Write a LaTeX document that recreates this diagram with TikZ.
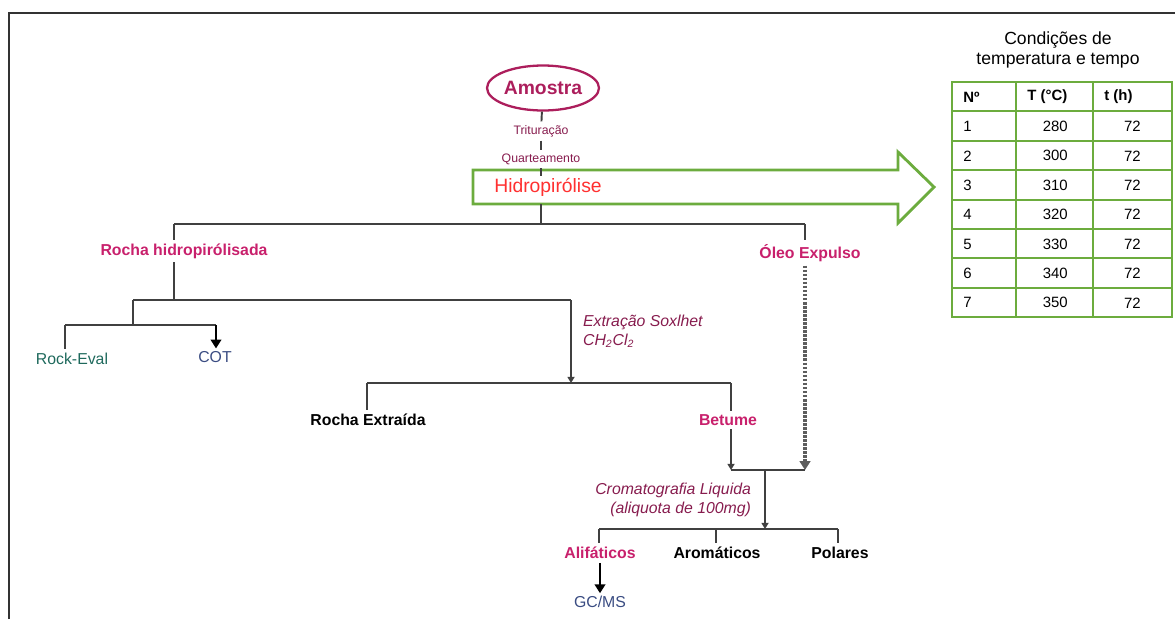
\documentclass[tikz,border=0pt]{standalone}
\usepackage{fontspec}
\setmainfont{Liberation Sans}
\usetikzlibrary{arrows.meta,shapes.geometric}
\definecolor{magen}{RGB}{200,32,108}
\definecolor{vinho}{RGB}{135,28,78}
\definecolor{amost}{RGB}{172,30,92}
\definecolor{verde}{RGB}{108,172,62}
\definecolor{petrol}{RGB}{30,105,92}
\definecolor{azul}{RGB}{58,76,130}
\definecolor{linha}{RGB}{64,64,64}
\definecolor{vermelho}{RGB}{255,48,48}
\newcommand{\fs}[1]{\fontsize{#1}{#1}\selectfont}
\tikzset{
  ln/.style={linha, line width=1.1pt},
  lbl/.style={font=\fs{9}\bfseries, text=magen, inner sep=2pt},
  obs/.style={font=\fs{9}\itshape, text=vinho, inner sep=1pt},
  tip/.style={-{Triangle[width=6pt,length=5pt]}},
  tipp/.style={-{Triangle[width=4pt,length=3.5pt]}},
  cel/.style={font=\fs{8.5}, inner sep=0pt}
}

\begin{document}
\begin{tikzpicture}[x=0.02cm, y=-0.02cm]
  \useasboundingbox (0,0) rectangle (1175,619);
  \draw[line width=1.2pt, black!80] (9,619) -- (9,13) -- (1175,13);

  % amostra e preparacao
  \node[draw=amost, ellipse, line width=1.3pt, text=amost, inner sep=0pt,
        font=\fs{11}\bfseries, minimum width=2.24cm, minimum height=0.9cm] (amostra) at (543,88) {Amostra};
  \node[font=\fs{7}, text=vinho, inner sep=2pt] (trit) at (541,131) {Trituração};
  \node[font=\fs{7}, text=vinho, inner sep=2pt] (quart) at (541,159) {Quarteamento};
  \draw[ln] (amostra) -- (trit);
  \draw[ln] (trit) -- (quart);

  % seta da hidropirolise
  \draw[verde, line width=1.6pt, fill=white]
    (473,170) -- (898,170) -- (898,152) -- (934,187) -- (898,223) -- (898,204) -- (473,204) -- cycle;
  \node[font=\fs{11}, text=vermelho, inner sep=1pt] (hidro) at (548,187) {Hidropirólise};
  \coordinate (abot) at (541,204);
  \coordinate (split) at (541,224);
  \draw[ln] (quart) -- (quart |- hidro.north);
  \draw[ln] (abot) -- (split);

  % ramos principais
  \node[lbl] (rochah) at (184,251) {Rocha hidropirólisada};
  \node[lbl] (oleo) at (810,253) {Óleo Expulso};
  \coordinate (s1) at (174,224);
  \coordinate (s2) at (805,224);
  \draw[ln] (s1) -- (s2);
  \draw[ln] (s1) -- (s1 |- rochah.north);
  \draw[ln] (s2) -- (s2 |- oleo.north);

  % rocha hidropirolisada
  \coordinate (r1) at (174,300);
  \coordinate (r2) at (133,300);
  \coordinate (r3) at (571,300);
  \draw[ln] (r1 |- rochah.south) -- (r1);
  \draw[ln] (r2) -- (r3);
  \node[font=\fs{9}, text=petrol, inner sep=2pt] (rockeval) at (72,359) {Rock-Eval};
  \node[font=\fs{9}, text=azul, inner sep=1.5pt] (cot) at (215,357) {COT};
  \coordinate (c1) at (133,325);
  \coordinate (c2) at (65,325);
  \coordinate (c3) at (216,325);
  \draw[ln] (r2) -- (c1);
  \draw[ln] (c2) -- (c3);
  \draw[ln] (c2) -- (c2 |- rockeval.north);
  \draw[ln, tip, black] (c3) -- (c3 |- cot.north);

  % extracao soxlhet
  \coordinate (e1) at (571,383);
  \draw[ln, tipp] (r3) -- (e1);
  \node[obs, anchor=west, align=left] (soxlhet) at (581,331)
    {Extração Soxlhet\\[2pt]CH\textsubscript{2}Cl\textsubscript{2}};
  \node[lbl, text=black] (rochae) at (368,420) {Rocha Extraída};
  \node[lbl] (betume) at (728,420) {Betume};
  \coordinate (e2) at (367,383);
  \coordinate (e3) at (731,383);
  \draw[ln] (e2) -- (e3);
  \draw[ln] (e2) -- (e2 |- rochae.north);
  \draw[ln] (e3) -- (e3 |- betume.north);

  % juncao betume + oleo
  \coordinate (j1) at (731,470);
  \coordinate (j2) at (805,470);
  \coordinate (j3) at (765,470);
  \draw[ln, tipp] (j1 |- betume.south) -- (j1);
  \draw[linha!85, line width=1.8pt, dash pattern=on 1.5pt off 0.8pt, tip] (s2 |- oleo.south) -- (j2);
  \draw[ln] (j1) -- (j2);
  \coordinate (f1) at (765,529);
  \draw[ln, tipp] (j3) -- (f1);
  \node[obs, anchor=east, align=right] (cromato) at (753,500)
    {Cromatografia Liquida\\[2pt](aliquota de 100mg)};

  % fracoes
  \node[lbl] (alif) at (600,553) {Alifáticos};
  \node[lbl, text=black] (arom) at (717,553) {Aromáticos};
  \node[lbl, text=black] (polar) at (840,553) {Polares};
  \node[font=\fs{9}, text=azul, inner sep=1.5pt] (gcms) at (600,602) {GC/MS};
  \coordinate (f2) at (599,529);
  \coordinate (f3) at (838,529);
  \coordinate (f4) at (716,529);
  \draw[ln] (f2) -- (f3);
  \draw[ln] (f2) -- (f2 |- alif.north);
  \draw[ln] (f4) -- (f4 |- arom.north);
  \draw[ln] (f3) -- (f3 |- polar.north);
  \draw[ln, tip, black] (alif.south) -- (gcms.north);

  % tabela de condicoes
  \node[font=\fs{10}, align=center] (titulo) at (1058,50) {Condições de\\[1pt]temperatura e tempo};
  \draw[verde, line width=1.2pt] (952,82) rectangle (1172,317);
  \foreach \i in {1,...,7}
    \draw[verde, line width=1.2pt] (952,82+29.4*\i) -- (1172,82+29.4*\i);
  \draw[verde, line width=1.2pt] (1016,82) -- (1016,317);
  \draw[verde, line width=1.2pt] (1093,82) -- (1093,317);
  \node[cel, font=\fs{8.5}\bfseries, anchor=west] (hn) at (963,97) {Nº};
  \node[cel, font=\fs{8.5}\bfseries, anchor=west] (ht) at (1027,97) {T (°C)};
  \node[cel, font=\fs{8.5}\bfseries, anchor=west] (hh) at (1104,97) {t (h)};
  \foreach \n/\temp [count=\k] in {1/280,2/300,3/310,4/320,5/330,6/340,7/350} {
    \node[cel, anchor=west] (n\k) at (963,97+29.4*\k) {\n};
    \node[cel, anchor=east] (t\k) at (1068,97+29.4*\k) {\temp};
    \node[cel, anchor=east] (h\k) at (1141,97+29.4*\k) {72};
  }
\end{tikzpicture}
\end{document}
